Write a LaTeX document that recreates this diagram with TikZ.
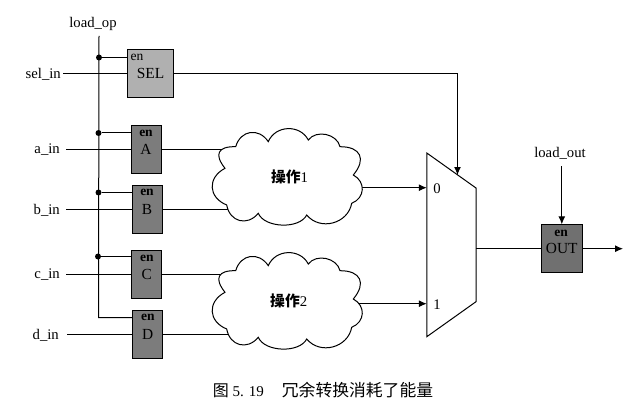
\documentclass[tikz,border=0pt]{standalone}
\usepackage{fontspec}
\setmainfont{Liberation Serif}
\newfontfamily\cjk{Noto Sans CJK SC}
\usepackage{xcolor}
\usetikzlibrary{arrows.meta,positioning,calc}
\definecolor{SelGray}{HTML}{B0B0B0}
\definecolor{RegGray}{HTML}{7C7C7C}
\definecolor{OutGray}{HTML}{707070}
\pgfdeclarelayer{back}
\pgfsetlayers{back,main}
\newcommand{\puffpath}{(-62,-8.7) to[lobe=1.9] (-51.3,-30.3) to[lobe=1.35] (-18.7,-35.3) to[lobe=1.15] (21.3,-37)
  to[lobe=1.05] (53,-30.3) to[lobe=1.7] (66.3,-2) to[lobe=1.3] (64.7,26.3) to[lobe=1.15] (19.7,38)
  to[lobe=0.85] (-28.7,36.3) to[lobe=1.35] (-60.3,28) to[lobe=1.4] (-62,-8.7) -- cycle}

\begin{document}
\begin{tikzpicture}[
  x=1pt,y=-1pt,
  wire/.style={line width=1pt,draw=black},
  arr/.style={wire,-{Latex[length=8pt,width=7pt]}},
  dot/.style={circle,fill=black,inner sep=0pt,minimum size=6pt},
  reg/.style={draw=black,line width=0.7pt,fill=RegGray,minimum width=30pt,minimum height=48pt,
              inner sep=0pt,font=\fontsize{15.4}{15}\selectfont},
  entag/.style={inner sep=0pt,font=\fontsize{13.5}{14}\selectfont\bfseries},
  sig/.style={inner sep=2pt,font=\fontsize{14.7}{15}\selectfont},
  lobe/.style={bend left=65,looseness=#1},
  puff/.style={wire,fill=white},
  optext/.style={inner sep=0pt,font=\fontsize{14.8}{15}\selectfont}
]
\useasboundingbox (0,0) rectangle (644,414);
% registers
\node[reg,fill=SelGray,minimum width=46pt] (sel) at (150.5,73.5) {SEL};
\node[reg] (a) at (146,149.5) {A};
\node[reg] (b) at (147,209.5) {B};
\node[reg] (c) at (146.8,274.5) {C};
\node[reg] (d) at (147.8,334.5) {D};
\node[reg,fill=OutGray,minimum width=41.5pt] (out) at (561.8,248.7) {OUT};
\node[entag,font=\fontsize{13.5}{14}\selectfont] (en-sel) at (137,57) {en};
\node[entag] (en-a) at (146,133) {en};
\node[entag] (en-b) at (147,192.5) {en};
\node[entag] (en-c) at (146.8,258) {en};
\node[entag] (en-d) at (147.8,317.5) {en};
\node[entag] (en-out) at (561,233) {en};
% clouds
\draw[puff,shift={(287,177)}] \puffpath;
\draw[puff,shift={(287,301)}] \puffpath;
\node[optext] (op1) at (289.5,177) {{\bfseries\cjk 操作}1};
\node[optext] (op2) at (288.7,301) {{\bfseries\cjk 操作}2};
% mux
\coordinate (mux-nw) at (426.8,153);
\coordinate (mux-ne) at (476,188);
\coordinate (mux-se) at (476,301.7);
\coordinate (mux-sw) at (426.8,336.7);
\draw[wire] (mux-nw) -- (mux-ne) -- (mux-se) -- (mux-sw) -- cycle;
\coordinate (mux-0) at (426.8,187.7);
\coordinate (mux-1) at (426.8,303.7);
\coordinate (mux-s) at (457.5,175);
\node[sig] (zero) at (437,188.5) {0};
\node[sig] (one) at (437,305) {1};
% inputs
\node[sig,anchor=east] (sel-in) at (63,74.5) {sel\_in};
\node[sig,anchor=east] (a-in) at (62,150) {a\_in};
\node[sig,anchor=east] (b-in) at (62,210) {b\_in};
\node[sig,anchor=east] (c-in) at (62,275) {c\_in};
\node[sig,anchor=east] (d-in) at (61,335.5) {d\_in};
\node[sig] (load-op) at (93,24) {load\_op};
\node[sig] (load-out) at (560,153) {load\_out};
\node[inner sep=0pt,font=\fontsize{15}{15}\selectfont] (caption) at (323,390.5)
  {{\fontsize{16}{16}\selectfont\cjk 图} 5. 19\hspace{18pt}{\fontsize{16.8}{16}\selectfont\cjk 冗余转换消耗了能量}};
% enable bus
\coordinate (bus-top) at (99,36);
\coordinate (bus-end) at (98.5,317.5);
\node[dot] (dot-sel) at (99,57.5) {};
\node[dot] (dot-a) at (98.5,133) {};
\node[dot] (dot-b) at (98.5,192.5) {};
\node[dot] (dot-c) at (98,256.5) {};
\draw[wire] (bus-top) -- (bus-end) -- (d.west |- bus-end);
\draw[wire] (dot-sel) -- (sel.west |- dot-sel);
\draw[wire] (dot-a) -- (a.west |- dot-a);
\draw[wire] (dot-b) -- (b.west |- dot-b);
\draw[wire] (dot-c) -- (c.west |- dot-c);
% data
\coordinate (sel-w) at (63,73.5);
\coordinate (a-w) at (66,149.5);
\coordinate (b-w) at (66,209.5);
\coordinate (c-w) at (66,274.5);
\coordinate (d-w) at (67,334.5);
\draw[wire] (sel-w) -- (sel.west);
\draw[wire] (a-w) -- (a.west);
\draw[wire] (b-w) -- (b.west);
\draw[wire] (c-w) -- (c.west);
\draw[wire] (d-w) -- (d.west);
\begin{pgfonlayer}{back}
\draw[wire] (a.east) -- (a.east -| op1);
\draw[wire] (b.east) -- (b.east -| op1);
\draw[wire] (c.east) -- (c.east -| op2);
\draw[wire] (d.east) -- (d.east -| op2);
\draw[arr] (mux-0 -| op1) -- (mux-0);
\draw[arr] (mux-1 -| op2) -- (mux-1);
\end{pgfonlayer}
\draw[arr] (sel.east) -| (mux-s);
\coordinate (mux-o) at (476,248.7);
\draw[wire] (mux-o) -- (out.west);
\coordinate (load-top) at (561.8,166);
\draw[arr] (load-top) -- (out.north);
\coordinate (out-end) at (623,248.7);
\draw[arr] (out.east) -- (out-end);
\end{tikzpicture}
\end{document}
